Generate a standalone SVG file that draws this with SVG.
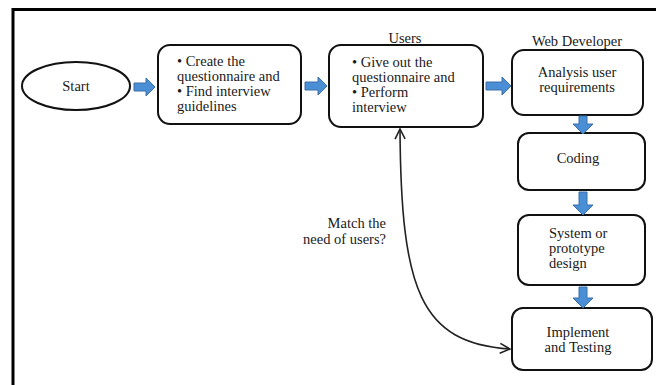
<svg xmlns="http://www.w3.org/2000/svg" width="656" height="385" viewBox="0 0 656 385">
<style>
.box{fill:#fff;stroke:#111;stroke-width:2}
.t{font-family:"Liberation Serif","Times New Roman",serif;font-size:14.5px;fill:#1a1a1a}
.c{text-anchor:middle}
.r{text-anchor:end}
.blk{fill:#4a8fd6;stroke:#3a6fa8;stroke-width:1}
.ln{fill:none;stroke:#222;stroke-width:1.6}
</style>
<defs>
<marker id="ah" viewBox="0 0 12 12" refX="11" refY="6" markerWidth="12" markerHeight="12" markerUnits="userSpaceOnUse" orient="auto-start-reverse">
<path d="M1,1 L11,6 L1,11" fill="none" stroke="#222" stroke-width="1.6"/>
</marker>
</defs>
<rect width="656" height="385" fill="#fff"/>
<path d="M13,385 V9.5 H656" fill="none" stroke="#000" stroke-width="3"/>

<g id="start">
<ellipse cx="76" cy="86" rx="54" ry="24" class="box"/>
<text x="76" y="91" class="t c">Start</text>
</g>
<g id="create">
<rect x="158" y="45" width="143" height="79" rx="12" class="box"/>
<text class="t" x="177" y="66">• Create the</text>
<text class="t" x="177" y="81">questionnaire and</text>
<text class="t" x="177" y="96">• Find interview</text>
<text class="t" x="177" y="111">guidelines</text>
</g>
<g id="users">
<text x="405" y="43" class="t c">Users</text>
<rect x="329" y="45" width="154" height="82" rx="12" class="box"/>
<text class="t" x="352" y="67">• Give out the</text>
<text class="t" x="352" y="82">questionnaire and</text>
<text class="t" x="352" y="97">• Perform</text>
<text class="t" x="352" y="112">interview</text>
</g>
<g id="analysis">
<text x="577" y="46" class="t c">Web Developer</text>
<rect x="512" y="50" width="131" height="65" rx="12" class="box"/>
<text class="t c" x="577" y="77">Analysis user</text>
<text class="t c" x="577" y="92">requirements</text>
</g>
<g id="coding">
<rect x="518" y="133" width="127" height="57" rx="11" class="box"/>
<text class="t c" x="578" y="163">Coding</text>
</g>
<g id="design">
<rect x="518" y="215" width="127" height="70" rx="11" class="box"/>
<text class="t" x="549" y="238">System or</text>
<text class="t" x="549" y="253">prototype</text>
<text class="t" x="549" y="268">design</text>
</g>
<g id="implement">
<rect x="512" y="308" width="140" height="62" rx="11" class="box"/>
<text class="t c" x="578" y="337">Implement</text>
<text class="t c" x="578" y="352">and Testing</text>
</g>

<g id="connectors">
<path class="blk" d="M134,83 H146 V78 L155,87 L146,96 V91 H134 Z"/>
<path class="blk" d="M305,82 H318 V77 L327,86 L318,95 V90 H305 Z"/>
<path class="blk" d="M486,82 H502 V77 L511,86 L502,95 V90 H486 Z"/>
<path class="blk" d="M579,116 V124 H573 L583,134 L593,124 H587 V116 Z"/>
<path class="blk" d="M579,192 V205 H573 L583,215 L593,205 H587 V192 Z"/>
<path class="blk" d="M579,287 V298 H573 L583,308 L593,298 H587 V287 Z"/>
<path class="ln" d="M400,129 C401,290 420,343 510,349" marker-start="url(#ah)" marker-end="url(#ah)"/>
<text class="t r" x="386" y="228">Match the</text>
<text class="t r" x="386" y="244">need of users?</text>
</g>
</svg>
